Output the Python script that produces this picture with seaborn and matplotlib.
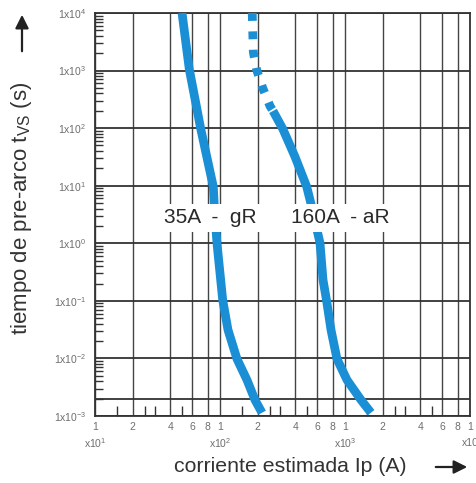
import seaborn as sns
import matplotlib.pyplot as plt
from matplotlib.ticker import FixedLocator, NullFormatter

# 35A - gR curve (current in A, pre-arc time in s)
gr_current = [49.7, 56.8, 70.1, 88.4, 90.4, 94.6, 105.1, 115.9, 136.8, 164.4, 190.5, 216.8]
gr_time = [1e4, 1052, 97.8, 9.6, 3.79, 1.0, 0.1035, 0.0312, 0.00977, 0.00422, 0.0019, 0.00114]

# 160A - aR curve, dotted part (top) and solid part
ar_dot_current = [181, 184.7, 196.6, 219.6, 251, 265.5]
ar_dot_time = [1e4, 2100, 1023, 498, 242.6, 199]
ar_current = [265.5, 317.4, 398, 494, 541.5, 631, 667, 711, 773, 863, 1038, 1343, 1614]
ar_time = [199, 97.8, 31.9, 9.6, 4.32, 1.01, 0.23, 0.1035, 0.0312, 0.00977, 0.00422, 0.0019, 0.00114]

y_exponents = [4, 3, 2, 1, 0, -1, -2, -3]
x_mantissas = [1, 2, 4, 6, 8]
x_decades = [10, 100, 1000]
x_minor_mantissas = [1.5, 2.5, 3, 5]
multiplier_labels = [r'x10$^{1}$', r'x10$^{2}$', r'x10$^{3}$', 'x10']
labels = ['35A  -  gR', '160A  - aR']

sns.set_style("white")
plt.rcParams['font.family'] = ['Liberation Sans', 'DejaVu Sans']
plt.rcParams['mathtext.fontset'] = 'custom'
plt.rcParams['mathtext.rm'] = 'Liberation Sans'
plt.rcParams['mathtext.it'] = 'Liberation Sans:italic'

blue = '#1b8fd5'
grid_c = '#333333'
tick_c = '#6e6e6e'

fig = plt.figure(figsize=(4.77, 4.83), dpi=100)
ax = fig.add_axes([95 / 477, 67 / 483, 375 / 477, 403 / 483])
ax.set_xscale('log')
ax.set_yscale('log')
ax.set_xlim(10, 10000)
ax.set_ylim(1e-3, 1e4)

lw = 6.3
sns.lineplot(x=gr_current, y=gr_time, sort=False, color=blue, linewidth=lw,
             solid_capstyle='butt', solid_joinstyle='round', ax=ax, zorder=3)
sns.lineplot(x=ar_current, y=ar_time, sort=False, color=blue, linewidth=lw,
             solid_capstyle='butt', solid_joinstyle='round', ax=ax, zorder=3)
sns.lineplot(x=ar_dot_current, y=ar_dot_time, sort=False, color=blue, linewidth=lw,
             linestyle=(0, (0.9, 1.2)), dash_capstyle='butt', ax=ax, zorder=3)

# x ticks: 1 2 4 6 8 in every decade
xt = [m * d for d in x_decades for m in x_mantissas] + [10000]
xl = [str(m) for d in x_decades for m in x_mantissas] + ['1']
ax.xaxis.set_major_locator(FixedLocator(xt))
ax.set_xticklabels(xl)
ax.xaxis.set_minor_locator(FixedLocator([m * d for d in x_decades for m in x_minor_mantissas]))
ax.xaxis.set_minor_formatter(NullFormatter())

yt = [10.0 ** e for e in y_exponents]
ax.yaxis.set_major_locator(FixedLocator(yt))
ax.set_yticklabels([r'$\mathregular{1x10^{%d}}$' % e for e in y_exponents])
ax.yaxis.set_minor_locator(FixedLocator([m * 10.0 ** e for e in range(-3, 4) for m in range(2, 10)]))
ax.yaxis.set_minor_formatter(NullFormatter())

ax.tick_params(axis='both', which='major', length=0, labelsize=7.5, labelcolor=tick_c)
ax.tick_params(axis='x', which='major', pad=4)
ax.tick_params(axis='y', which='major', pad=6)
ax.tick_params(axis='y', which='minor', direction='in', length=6, width=1.0,
               color=grid_c, left=True)
ax.tick_params(axis='x', which='minor', direction='in', length=7, width=1.0,
               color=grid_c, bottom=True)

ax.set_axisbelow(True)
ax.grid(True, axis='x', which='major', color='#444444', linewidth=1.0)
ax.grid(True, axis='y', which='major', color=grid_c, linewidth=1.3)
ax.axhline(2e-3, color=grid_c, linewidth=1.3, zorder=1)
for s in ax.spines.values():
    s.set_color(grid_c)
    s.set_linewidth(1.3)

# decade multipliers under the tick labels
for d, lab in zip(x_decades + [10000], multiplier_labels):
    ax.text(d, -0.067, lab, transform=ax.get_xaxis_transform(), ha='center',
            va='center', fontsize=7.5, color=tick_c)

# curve labels with white box
for xpos, lab in zip([84, 920], labels):
    ax.text(xpos, 2.75, lab, ha='center', va='center', fontsize=15, color='#2a2a2a',
            zorder=5, bbox=dict(boxstyle='square,pad=0.2', fc='white', ec='none'))

fig.text(22 / 477, 1 - 208 / 483, r'tiempo de pre-arco t$_{\mathregular{VS}}$ (s)',
         rotation=90, ha='center', va='center', fontsize=16, color='#333333')
fig.text(290 / 477, 1 - 467 / 483, 'corriente estimada Ip (A)', ha='center',
         va='center', fontsize=15.3, color='#333333')

arrow = dict(arrowstyle='-|>,head_length=0.8,head_width=0.4', color='#222222', lw=1.6)
ax.annotate('', xy=(470 / 477, 1 - 467 / 483), xytext=(433 / 477, 1 - 467 / 483),
            xycoords='figure fraction', textcoords='figure fraction', arrowprops=arrow,
            annotation_clip=False)
ax.annotate('', xy=(22 / 477, 1 - 12 / 483), xytext=(22 / 477, 1 - 54 / 483),
            xycoords='figure fraction', textcoords='figure fraction', arrowprops=arrow,
            annotation_clip=False)

fig.savefig('out.png', dpi=100, facecolor='white')
